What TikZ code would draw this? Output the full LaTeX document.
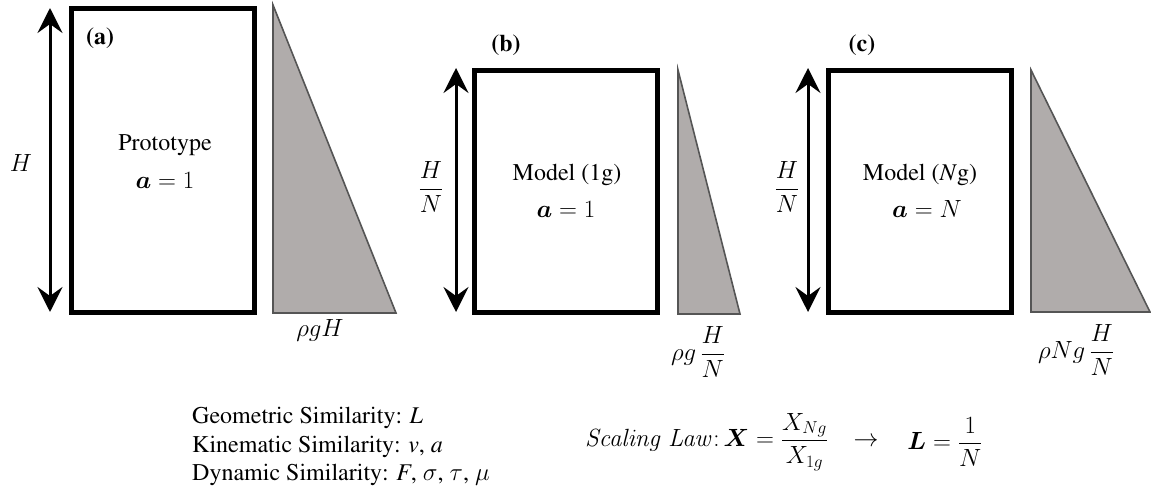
\documentclass[tikz,border=0pt]{standalone}
\usepackage[T1]{fontenc}
\renewcommand{\rmdefault}{ptm}
\usepackage{amsmath}
\usepackage{bm}
\usetikzlibrary{arrows.meta}
\definecolor{trifill}{RGB}{176,172,171}
\definecolor{triedge}{RGB}{85,85,85}
\tikzset{
  txt/.style={inner sep=0pt, font=\fontsize{24}{28}\selectfont},
  box/.style={draw=black, line width=5pt},
  tri/.style={fill=trifill, draw=triedge, line width=1.6pt, line join=miter},
  dimarrow/.style={line width=3pt, {Stealth[length=25pt,width=25pt,inset=9pt]}-{Stealth[length=25pt,width=25pt,inset=9pt]}},
  lbl/.style={inner sep=0pt, font=\fontsize{24}{28}\selectfont\bfseries}
}
\begin{document}
\begin{tikzpicture}[x=1pt,y=-1pt]
\useasboundingbox (0,0) rectangle (1151,489);
% panel (a)
\draw[box] (71.5,8.5) rectangle (254.5,312.5);
\draw[tri] (273,5) -- (273,313) -- (396,313) -- cycle;
\coordinate (a1) at (50,8);
\coordinate (a2) at (50,312);
\draw[dimarrow] (a1) -- (a2);
\node[lbl] (la) at (100,38) {(a)};
\node[txt] (ha) at (21,163) {$H$};
\node[txt] (pa) at (165,145) {Prototype};
\node[txt] (aa) at (165,180) {$\bm{a}=1$};
\node[txt] (pra) at (320,330) {$\rho g H$};
% panel (b)
\draw[box] (474.5,70.5) rectangle (657.5,312.5);
\draw[tri] (678,70) -- (678,314) -- (740,314) -- cycle;
\coordinate (b1) at (456,68);
\coordinate (b2) at (456,312);
\draw[dimarrow] (b1) -- (b2);
\node[lbl] (lb) at (506,45) {(b)};
\node[txt] (hb) at (431,187) {$\dfrac{H}{N}$};
\node[txt] (mb) at (567,175) {Model (1g)};
\node[txt] (ab) at (566,209) {$\bm{a}=1$};
\node[txt] (prb) at (698,352) {$\rho g\,\dfrac{H}{N}$};
% panel (c)
\draw[box] (828.5,70.5) rectangle (1011.5,312.5);
\draw[tri] (1031,70) -- (1031,312) -- (1150,312) -- cycle;
\coordinate (c1) at (808,68);
\coordinate (c2) at (808,312);
\draw[dimarrow] (c1) -- (c2);
\node[lbl] (lc) at (862,45) {(c)};
\node[txt] (hc) at (787,187) {$\dfrac{H}{N}$};
\node[txt] (mc) at (920,175) {Model (\textit{N}g)};
\node[txt] (ac) at (927,209) {$\bm{a}=N$};
\node[txt] (prc) at (1076,350) {$\rho N g\,\dfrac{H}{N}$};
% bottom text
\node[txt, anchor=base west] (g1) at (192,423) {Geometric Similarity: \textit{L}};
\node[txt, anchor=base west] (g2) at (192,452) {Kinematic Similarity: \textit{v}, \textit{a}};
\node[txt, anchor=base west] (g3) at (192,480) {Dynamic Similarity: \textit{F}, $\sigma$, $\tau$, $\mu$};
\node[txt, anchor=west] (sl) at (585,442) {$\mathit{Scaling\ Law}{:}\,\bm{X}=\dfrac{X_{Ng}}{X_{1g}}$};
\node[txt] (ar) at (866,442) {$\rightarrow$};
\node[txt] (ll) at (945,442) {$\bm{L}=\dfrac{1}{N}$};
\end{tikzpicture}
\end{document}
